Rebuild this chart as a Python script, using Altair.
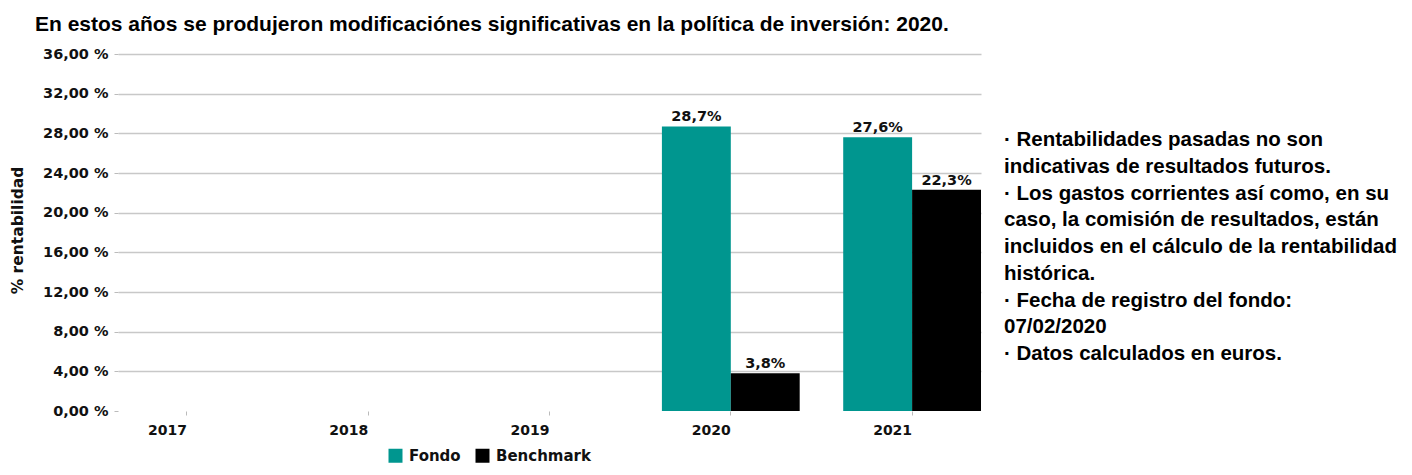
import altair as alt
import pandas as pd

years = ["2017", "2018", "2019", "2020", "2021"]
series = ["Fondo", "Benchmark"]
data_years = ["2020", "2020", "2021", "2021"]
data_series = ["Fondo", "Benchmark", "Fondo", "Benchmark"]
data_values = [28.7, 3.8, 27.6, 22.3]
y_ticks = [0, 4, 8, 12, 16, 20, 24, 28, 32, 36]
colors = ["#00968f", "#000000"]

title_text = "En estos años se produjeron modificaciónes significativas en la política de inversión: 2020."
notes = [
    "· Rentabilidades pasadas no son",
    "\u00a0indicativas de resultados futuros.",
    "· Los gastos corrientes así como, en su",
    "caso, la comisión de resultados, están",
    "\u00a0incluidos en el cálculo de la rentabilidad",
    "\u00a0histórica.",
    "· Fecha de registro del fondo:",
    "\u00a007/02/2020",
    "· Datos calculados en euros.",
]

df = pd.DataFrame({"year": data_years, "serie": data_series, "v": data_values})

LABEL_FONT = "DejaVu Sans"
TEXT_FONT = "Liberation Sans Narrow, Arial Narrow, Liberation Sans"

x_enc = alt.X(
    "year:N",
    scale=alt.Scale(domain=years, paddingInner=0.24, paddingOuter=0),
    axis=alt.Axis(
        title=None, labelAngle=0, labelAlign="right", labelFont=LABEL_FONT,
        labelFontWeight="bold", labelFontSize=14, labelColor="#111",
        labelPadding=8, tickSize=4, tickColor="#bbbbbb", domain=False, grid=False,
    ),
)
xoff = alt.XOffset("serie:N", scale=alt.Scale(domain=series))

y_enc = alt.Y(
    "v:Q",
    scale=alt.Scale(domain=[0, 36], nice=False),
    axis=alt.Axis(
        values=y_ticks,
        labelExpr="replace(format(datum.value, '.2f'), '.', ',') + ' %'",
        labelFont=LABEL_FONT, labelFontWeight="bold", labelFontSize=14.5,
        labelColor="#111", labelPadding=6, tickSize=4, tickColor="#bbbbbb",
        domain=False,
        gridColor=alt.condition("datum.value == 0", alt.value("transparent"), alt.value("#c8c8c8")),
        gridWidth=1.5,
        title="% rentabilidad", titleFont=LABEL_FONT, titleFontWeight="bold",
        titleFontSize=15.5, titleColor="#111", titleAngle=-90, titleX=-108,
        titleY=176, titleBaseline="top", titleAlign="center",
    ),
)

bars = alt.Chart(df).mark_bar().encode(
    x=x_enc,
    xOffset=xoff,
    y=y_enc,
    color=alt.Color(
        "serie:N",
        scale=alt.Scale(domain=series, range=colors),
        legend=alt.Legend(
            title=None, orient="none", legendX=270, legendY=394, direction="horizontal",
            symbolType="square", symbolSize=196, symbolStrokeWidth=0, symbolOpacity=1,
            labelFont=LABEL_FONT, labelFontWeight="bold", labelFontSize=15,
            labelColor="#111", labelOffset=6, columnPadding=14,
        ),
    ),
)

labels = alt.Chart(df).transform_calculate(
    lbl="replace(format(datum.v, '.1f'), '.', ',') + '%'"
).mark_text(
    baseline="bottom", dy=-2, font=LABEL_FONT, fontWeight="bold", fontSize=14.5, color="#111"
).encode(x=x_enc, xOffset=xoff, y=y_enc, text="lbl:N")

title = alt.Chart(pd.DataFrame({"t": [title_text]})).mark_text(
    align="left", baseline="alphabetic", font=TEXT_FONT, fontWeight="bold",
    fontSize=21, color="#000"
).encode(text="t:N", x=alt.value(-83), y=alt.value(-23.5))

note = alt.Chart(pd.DataFrame({"t": [0]})).mark_text(
    align="left", baseline="alphabetic", font=TEXT_FONT, fontWeight="bold",
    fontSize=20.5, color="#000", lineHeight=26.75, text=notes
).encode(x=alt.value(886), y=alt.value(92))

chart = alt.layer(bars, labels, title, note).properties(
    width=863, height=357,
    autosize=alt.AutoSizeParams(type="none"),
    padding={"left": 110, "top": 46, "right": 423, "bottom": 56},
    background="white",
).configure_view(stroke=None)

chart.save("out.html", embed_options={"renderer": "svg", "actions": False})
